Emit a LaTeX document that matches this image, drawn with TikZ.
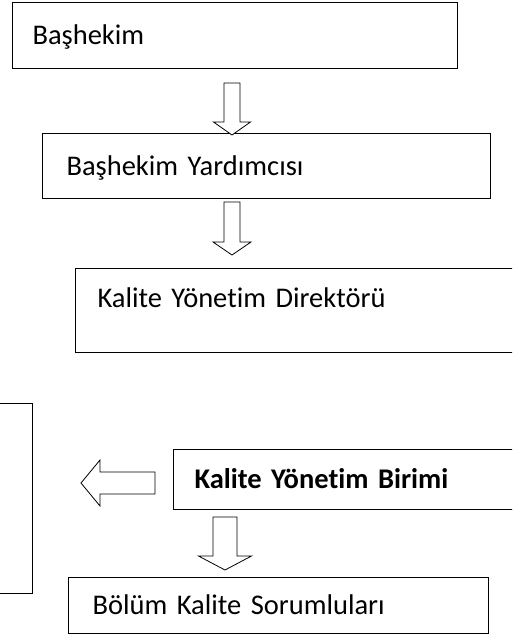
\documentclass[tikz,border=0pt]{standalone}
\usepackage{fontspec}
\setmainfont{Carlito}[Ligatures=NoCommon]
\usetikzlibrary{calc,positioning}

\tikzset{
  box/.style={draw, line width=1pt, anchor=north west, align=left, inner xsep=22pt, inner ysep=0pt,
    text height=19pt, text depth=1pt, font=\fontsize{28.5}{33}\selectfont},
  hollow/.style={draw, line width=0.8pt, line join=miter, fill=white}
}
% hollow block arrow: start, tip, shaft half width, head half width, head length
\newcommand{\fatarrow}[5]{%
  \coordinate (hb) at ($(#2)!#5!(#1)$);
  \draw[hollow] ($(#1)!#3!90:(#2)$) -- ($(hb)!#3!90:(#2)$) -- ($(hb)!#4!90:(#2)$) -- (#2)
    -- ($(hb)!#4!-90:(#2)$) -- ($(hb)!#3!-90:(#2)$) -- ($(#1)!#3!-90:(#2)$) -- cycle;
}

\begin{document}
\begin{tikzpicture}[x=1pt,y=-1pt]
\useasboundingbox (0,0) rectangle (512,634);
\clip (0,0) rectangle (512,634);

\node[box, inner xsep=20pt, text width=405pt, minimum height=66pt] (bas) at (12,2) {Başhekim};
\node[box, inner xsep=24pt, text width=400pt, minimum height=65pt] (yard) at (42,133) {Başhekim Yardımcısı};
\node[box, text width=411pt, minimum height=84pt, text depth=26pt] (dir) at (75,268) {Kalite Yönetim Direktörü};
\node[box, inner xsep=21pt, text width=315pt, minimum height=60pt, font=\fontsize{28.5}{33}\selectfont\bfseries] (birim) at (173,449) {Kalite Yönetim Birimi};
\node[box, inner xsep=24pt, text width=372pt, minimum height=56pt] (sor) at (68,577) {Bölüm Kalite Sorumluları};
\node[box, text width=8pt, minimum height=190pt] (yan) at (-20,403) {};

% arrows
\coordinate (a1) at (232,83);
\path (a1 |- yard.north) ++(0,2) coordinate (t1);
\fatarrow{a1}{t1}{8pt}{18.5pt}{13pt}

\coordinate (a2) at (232,202);
\coordinate (t2) at (232,255);
\fatarrow{a2}{t2}{8pt}{19pt}{13pt}

\coordinate (a3) at (225,517);
\coordinate (t3) at (225,570);
\fatarrow{a3}{t3}{12pt}{26.5pt}{14pt}

\coordinate (a4) at (155,483);
\coordinate (t4) at (81,483);
\fatarrow{a4}{t4}{11pt}{23pt}{19pt}

\end{tikzpicture}
\end{document}
